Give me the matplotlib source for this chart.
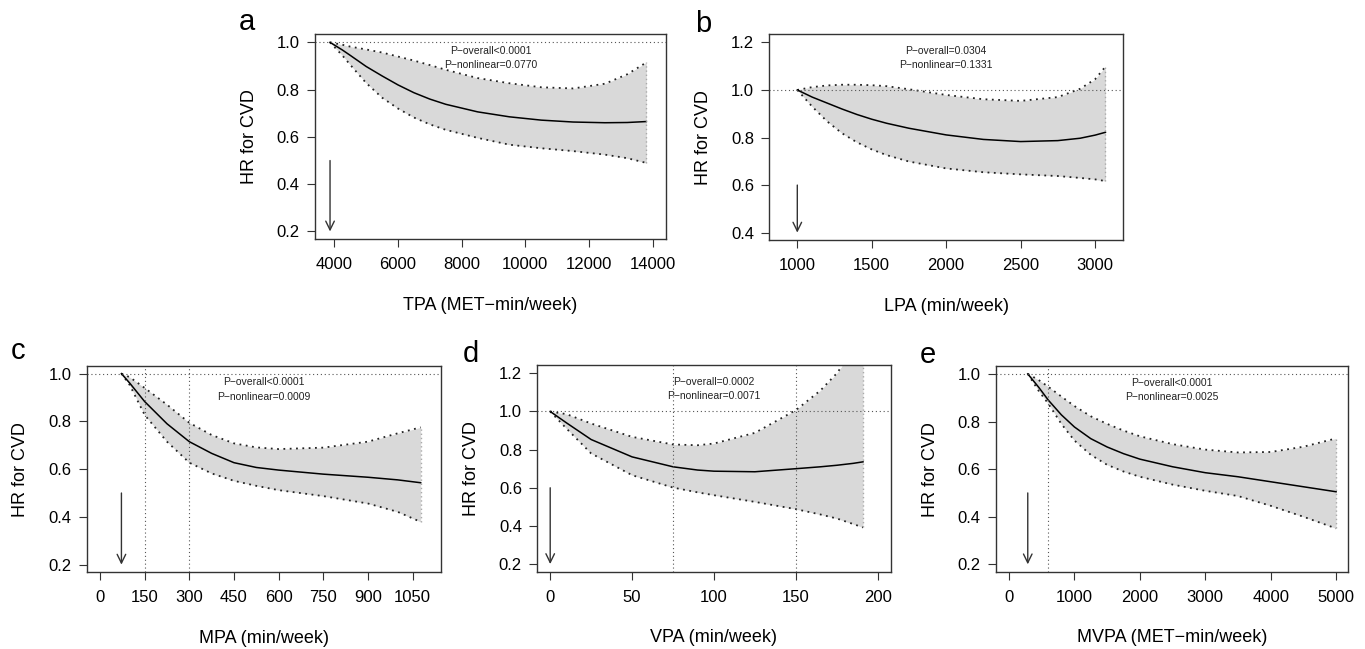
import numpy as np
import matplotlib
matplotlib.use("Agg")
import matplotlib.pyplot as plt

plt.rcParams['font.family'] = ['Liberation Sans', 'DejaVu Sans']

# ---- data ----
tpa_x = [3865, 4250, 4500, 5000, 5500, 6000, 6500, 7000, 7500, 8500, 9500, 10500, 11500, 12500, 13200, 13800]
tpa_hr = [1.0, 0.968, 0.945, 0.898, 0.858, 0.82, 0.787, 0.76, 0.738, 0.706, 0.685, 0.671, 0.663, 0.66, 0.661, 0.665]
tpa_hi = [1.0, 0.99, 0.982, 0.97, 0.957, 0.94, 0.923, 0.904, 0.884, 0.849, 0.827, 0.81, 0.805, 0.825, 0.865, 0.915]
tpa_lo = [1.0, 0.945, 0.905, 0.828, 0.766, 0.72, 0.682, 0.653, 0.63, 0.596, 0.567, 0.552, 0.54, 0.525, 0.51, 0.49]

lpa_x = [1000, 1100, 1200, 1300, 1400, 1500, 1600, 1750, 2000, 2250, 2500, 2750, 2900, 3000, 3070]
lpa_hr = [1.0, 0.97, 0.945, 0.92, 0.897, 0.877, 0.86, 0.839, 0.811, 0.792, 0.783, 0.787, 0.797, 0.81, 0.822]
lpa_hi = [1.0, 1.012, 1.019, 1.022, 1.022, 1.02, 1.016, 1.003, 0.979, 0.961, 0.954, 0.97, 1.005, 1.045, 1.098]
lpa_lo = [1.0, 0.93, 0.868, 0.818, 0.78, 0.75, 0.726, 0.699, 0.67, 0.654, 0.645, 0.638, 0.63, 0.624, 0.617]

mpa_x = [72, 100, 150, 225, 300, 375, 450, 525, 600, 750, 900, 1000, 1077]
mpa_hr = [1.0, 0.96, 0.883, 0.79, 0.715, 0.666, 0.627, 0.607, 0.596, 0.579, 0.566, 0.555, 0.543]
mpa_hi = [1.0, 0.985, 0.94, 0.87, 0.794, 0.743, 0.708, 0.691, 0.684, 0.69, 0.715, 0.75, 0.775]
mpa_lo = [1.0, 0.952, 0.827, 0.715, 0.627, 0.582, 0.551, 0.53, 0.512, 0.487, 0.456, 0.421, 0.379]

vpa_x = [0, 10, 25, 50, 75, 90, 100, 125, 150, 165, 175, 185, 191]
vpa_hr = [1.0, 0.94, 0.853, 0.762, 0.71, 0.693, 0.687, 0.684, 0.70, 0.71, 0.718, 0.728, 0.736]
vpa_hi = [1.0, 0.986, 0.937, 0.867, 0.827, 0.823, 0.832, 0.888, 1.007, 1.11, 1.2, 1.32, 1.42]
vpa_lo = [1.0, 0.91, 0.78, 0.666, 0.601, 0.576, 0.561, 0.526, 0.488, 0.46, 0.439, 0.41, 0.392]

mvpa_x = [286, 450, 600, 800, 1000, 1250, 1500, 1750, 2000, 2500, 3000, 3500, 4000, 4500, 5000]
mvpa_hr = [1.0, 0.945, 0.89, 0.828, 0.777, 0.728, 0.693, 0.665, 0.642, 0.61, 0.585, 0.568, 0.547, 0.526, 0.505]
mvpa_hi = [1.0, 0.975, 0.946, 0.905, 0.865, 0.822, 0.79, 0.762, 0.738, 0.705, 0.682, 0.67, 0.672, 0.694, 0.729]
mvpa_lo = [1.0, 0.93, 0.875, 0.79, 0.72, 0.66, 0.618, 0.59, 0.568, 0.535, 0.509, 0.487, 0.446, 0.4, 0.351]

panels = [
    dict(letter="a", pos=[0.2308, 0.6317, 0.2569, 0.3154], x=tpa_x, hr=tpa_hr, hi=tpa_hi, lo=tpa_lo,
         xlim=(3394, 14408), ylim=(0.168, 1.034), xticks=np.arange(4000, 14001, 2000),
         yticks=[0.2, 0.4, 0.6, 0.8, 1.0], xlabel="TPA (MET\u2212min/week)",
         p1="P\u2212overall<0.0001", p2="P\u2212nonlinear=0.0770", vlines=[], arrow=(3865, 0.5, 0.2),
         lpos=(246.7, 30)),
    dict(letter="b", pos=[0.5636, 0.6302, 0.2589, 0.3169], x=lpa_x, hr=lpa_hr, hi=lpa_hi, lo=lpa_lo,
         xlim=(812, 3186), ylim=(0.369, 1.234), xticks=np.arange(1000, 3001, 500),
         yticks=[0.4, 0.6, 0.8, 1.0, 1.2], xlabel="LPA (min/week)",
         p1="P\u2212overall=0.0304", p2="P\u2212nonlinear=0.1331", vlines=[], arrow=(1000, 0.6, 0.4),
         lpos=(703.3, 32)),
    dict(letter="c", pos=[0.0635, 0.1182, 0.2593, 0.3179], x=mpa_x, hr=mpa_hr, hi=mpa_hi, lo=mpa_lo,
         xlim=(-44.7, 1144), ylim=(0.168, 1.032), xticks=np.arange(0, 1051, 150),
         yticks=[0.2, 0.4, 0.6, 0.8, 1.0], xlabel="MPA (min/week)",
         p1="P\u2212overall<0.0001", p2="P\u2212nonlinear=0.0009", vlines=[150, 300], arrow=(72, 0.5, 0.2),
         lpos=(18.3, 359)),
    dict(letter="d", pos=[0.3936, 0.1191, 0.2589, 0.3180], x=vpa_x, hr=vpa_hr, hi=vpa_hi, lo=vpa_lo,
         xlim=(-7.9, 207.9), ylim=(0.16, 1.242), xticks=np.arange(0, 201, 50),
         yticks=[0.2, 0.4, 0.6, 0.8, 1.0, 1.2], xlabel="VPA (min/week)",
         p1="P\u2212overall=0.0002", p2="P\u2212nonlinear=0.0071", vlines=[75, 150], arrow=(0, 0.6, 0.2),
         lpos=(470.7, 361.7)),
    dict(letter="e", pos=[0.7297, 0.1187, 0.2581, 0.3169], x=mvpa_x, hr=mvpa_hr, hi=mvpa_hi, lo=mvpa_lo,
         xlim=(-199, 5188), ylim=(0.168, 1.032), xticks=np.arange(0, 5001, 1000),
         yticks=[0.2, 0.4, 0.6, 0.8, 1.0], xlabel="MVPA (MET\u2212min/week)",
         p1="P\u2212overall<0.0001", p2="P\u2212nonlinear=0.0025", vlines=[600], arrow=(286, 0.5, 0.2),
         lpos=(928, 363)),
]

W, H = 1365, 649
fig = plt.figure(figsize=(W / 100, H / 100), dpi=100)

for p in panels:
    ax = fig.add_axes(p["pos"])
    x = np.array(p["x"])
    ax.fill_between(x, p["lo"], p["hi"], color="#d9d9d9", lw=0)
    ax.plot(x, p["hi"], color="#222222", lw=1.3, ls=(0, (1, 2.5)))
    ax.plot(x, p["lo"], color="#222222", lw=1.3, ls=(0, (1, 2.5)))
    ax.plot(x, p["hr"], color="black", lw=1.1)
    ax.plot([x[-1], x[-1]], [p["lo"][-1], p["hi"][-1]], color="#aaaaaa", lw=1, ls=(0, (1, 2)))
    ax.axhline(1.0, color="#555555", lw=0.8, ls=(0, (1, 2.5)))
    for v in p["vlines"]:
        ax.axvline(v, color="#555555", lw=0.8, ls=(0, (1, 2.5)))
    ax0, ay0, ay1 = p["arrow"]
    ax.annotate("", xy=(ax0, ay1), xytext=(ax0, ay0),
                arrowprops=dict(arrowstyle="->,head_length=0.45,head_width=0.22", color="#333333",
                                lw=1, shrinkA=0, shrinkB=0, mutation_scale=14))
    ax.text(0.5, 0.92, p["p1"], transform=ax.transAxes, ha="center", va="center", fontsize=7.5, color="#222222")
    ax.text(0.5, 0.85, p["p2"], transform=ax.transAxes, ha="center", va="center", fontsize=7.5, color="#222222")

    ax.set_xlim(p["xlim"])
    ax.set_ylim(p["ylim"])
    ax.set_xticks(p["xticks"])
    ax.set_yticks(p["yticks"])
    ax.set_yticklabels(["%.1f" % t for t in p["yticks"]])
    ax.tick_params(direction="out", length=6, width=0.8, color="#333333", labelsize=12)
    ax.tick_params(axis="x", pad=7)
    ax.tick_params(axis="y", pad=5)
    for s in ax.spines.values():
        s.set_color("#333333")
        s.set_linewidth(1.0)

    wpx = p["pos"][2] * W
    hpx = p["pos"][3] * H
    ax.set_xlabel(p["xlabel"], fontsize=13, va="center")
    ax.xaxis.set_label_coords(0.5, -66 / hpx)
    ax.set_ylabel("HR for CVD", fontsize=13, va="center")
    ax.yaxis.set_label_coords(-66 / wpx, 0.5)

    lx, ly = p["lpos"]
    fig.text(lx / W, 1 - ly / H, p["letter"], ha="center", va="baseline", fontsize=21)

fig.savefig("out.png", dpi=100)
